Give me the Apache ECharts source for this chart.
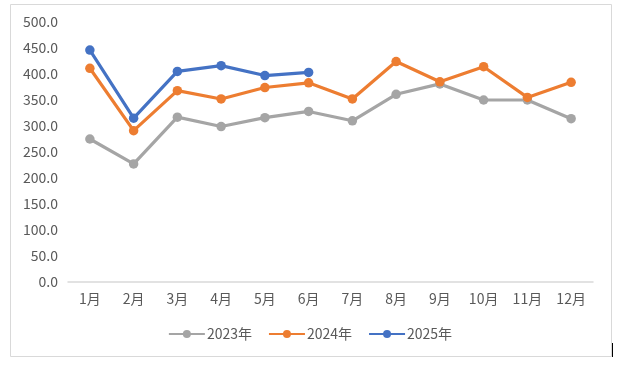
<!DOCTYPE html>
<html><head><meta charset="utf-8">
<script src="https://cdn.jsdelivr.net/npm/echarts@6/dist/echarts.min.js"></script>
<style>html,body{margin:0;padding:0;background:#fff;}#c{width:620px;height:365px;}</style>
</head><body><div id="c"></div>
<script>
var categories = ['1月','2月','3月','4月','5月','6月','7月','8月','9月','10月','11月','12月'];
var s2023 = [275, 227, 317, 299, 316, 328, 310, 361, 381, 350, 350, 314];
var s2024 = [411, 291, 368, 352, 374, 383, 352, 424, 385, 414, 355, 384];
var s2025 = [446, 315, 405, 416, 397, 403];
var seriesNames = ['2023年','2024年','2025年'];
var colors = ['#A5A5A5','#ED7D31','#4472C4'];
var yTicks = {min: 0, max: 500, interval: 50};

var chart = echarts.init(document.getElementById('c'));
var font = '"Noto Sans CJK SC","Noto Sans",sans-serif';
function mk(name, data, color) {
  return {
    name: name, type: 'line', data: data, color: color,
    symbol: 'circle', symbolSize: 9.5,
    lineStyle: {width: 3.2, color: color},
    itemStyle: {color: color},
    emphasis: {disabled: true}, animation: false
  };
}
chart.setOption({
  animation: false,
  grid: {left: 68, right: 27, top: 22, bottom: 83},
  xAxis: {
    type: 'category', data: categories, boundaryGap: true,
    axisLine: {lineStyle: {color: '#D9D9D9', width: 1.5}},
    axisTick: {show: false},
    axisLabel: {color: '#595959', fontSize: 14, fontFamily: font, margin: 10}
  },
  yAxis: {
    type: 'value', min: yTicks.min, max: yTicks.max, interval: yTicks.interval,
    splitLine: {show: false}, axisLine: {show: false}, axisTick: {show: false},
    axisLabel: {color: '#595959', fontSize: 14, fontFamily: font, margin: 10,
      formatter: function(v){ return v.toFixed(1); }}
  },
  legend: {
    data: seriesNames, bottom: 19, left: 'center',
    itemWidth: 36, itemHeight: 10, itemGap: 16,
    textStyle: {color: '#595959', fontSize: 14, fontFamily: font, padding: [0,0,0,-3]}
  },
  graphic: [
    {type: 'rect', shape: {x: 10.5, y: 4.5, width: 601, height: 352},
     style: {fill: 'none', stroke: '#D9D9D9', lineWidth: 1}, z: -1},
    {type: 'line', shape: {x1: 612.5, y1: 343, x2: 612.5, y2: 357},
     style: {stroke: '#000', lineWidth: 1}}
  ],
  series: [mk(seriesNames[0], s2023, colors[0]), mk(seriesNames[1], s2024, colors[1]), mk(seriesNames[2], s2025, colors[2])]
});
</script></body></html>
